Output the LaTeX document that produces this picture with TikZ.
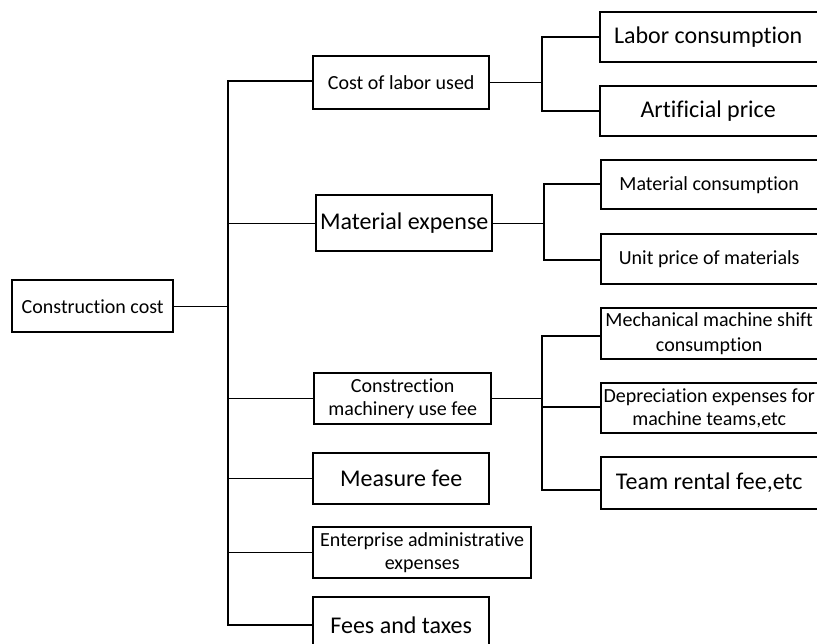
\documentclass[tikz,border=0pt]{standalone}
\usepackage{fontspec}
\setmainfont[Ligatures=NoCommon]{Carlito}
\begin{document}
\begin{tikzpicture}[x=1pt,y=-1pt,
  box/.style={draw=black,line width=2.4pt,rectangle,inner sep=0pt,align=center,anchor=north west},
  small/.style={font=\fontsize{20}{23}\selectfont},
  big/.style={font=\fontsize{24}{28}\selectfont},
  thin/.style={line width=1.1pt},
  thick trunk/.style={line width=2.8pt}]
\useasboundingbox (0,0) rectangle (817,644);
\clip (0,0) rectangle (817,644);
% left
\node[box,small,minimum width=161pt,minimum height=52pt] (cc) at (11,279) {Construction cost};
% middle column
\node[box,small,minimum width=176pt,minimum height=53pt] (labor) at (312,55) {Cost of labor used};
\node[box,big,minimum width=176pt,minimum height=56pt] (mat) at (315,194) {Material expense};
\node[box,small,minimum width=177pt,minimum height=51pt] (mach) at (313,372) {Constrection\\machinery use fee};
\node[box,big,minimum width=176pt,minimum height=51pt] (meas) at (312,452) {Measure fee};
\node[box,small,minimum width=218pt,minimum height=51pt] (ent) at (312,526) {Enterprise administrative\\expenses};
\node[box,big,minimum width=176pt,minimum height=56pt] (fees) at (312,596) {Fees and taxes};
% right column
\node[box,big,minimum width=230pt,minimum height=50pt] (lc) at (599,11) {\hspace*{-14pt}Labor consumption};
\node[box,big,minimum width=230pt,minimum height=50pt] (ap) at (599,85) {\hspace*{-14pt}Artificial price};
\node[box,small,minimum width=230pt,minimum height=49pt] (mc) at (600,159) {\hspace*{-14pt}Material consumption};
\node[box,small,minimum width=230pt,minimum height=50pt] (up) at (600,233) {\hspace*{-14pt}Unit price of materials};
\node[box,small,minimum width=230pt,minimum height=51pt,font=\fontsize{20}{25}\selectfont] (ms) at (600,307) {\hspace*{-14pt}Mechanical machine shift\\\hspace*{-14pt}consumption};
\node[box,small,minimum width=230pt,minimum height=50pt] (de) at (600,382) {\hspace*{-14pt}Depreciation expenses for\\\hspace*{-14pt}machine teams,etc};
\node[box,big,minimum width=230pt,minimum height=52pt] (tr) at (600,456) {\hspace*{-14pt}Team rental fee,etc};
% main trunk
\coordinate (t0) at (228,81);
\coordinate (t1) at (228,625);
\draw[thick trunk] (t0 -| labor.west) -- (t0) -- (t1) -- (t1 -| fees.west);
\draw[thin] (cc.east) -- (cc.east -| t0);
\draw[thin] (mat.west) -- (mat.west -| t0);
\draw[thin] (mach.west) -- (mach.west -| t0);
\draw[thin] (meas.west) -- (meas.west -| t0);
\draw[thin] (ent.west) -- (ent.west -| t0);
% sub trunk 1
\coordinate (s1a) at (542,37);
\coordinate (s1b) at (542,111);
\draw[thin] (labor.east) -- (labor.east -| s1a);
\draw[thin] (s1a -| lc.west) -- (s1a) -- (s1b) -- (s1b -| ap.west);
% sub trunk 2
\coordinate (s2a) at (544,184);
\coordinate (s2b) at (544,260);
\draw[thin] (mat.east) -- (mat.east -| s2a);
\draw[thin] (s2a -| mc.west) -- (s2a) -- (s2b) -- (s2b -| up.west);
% sub trunk 3
\coordinate (s3a) at (542,336);
\coordinate (s3m) at (542,407);
\coordinate (s3b) at (542,490);
\draw[thin] (mach.east) -- (mach.east -| s3a);
\draw[thin] (s3a -| ms.west) -- (s3a) -- (s3b) -- (s3b -| tr.west);
\draw[thin] (s3m) -- (s3m -| de.west);
\end{tikzpicture}
\end{document}
